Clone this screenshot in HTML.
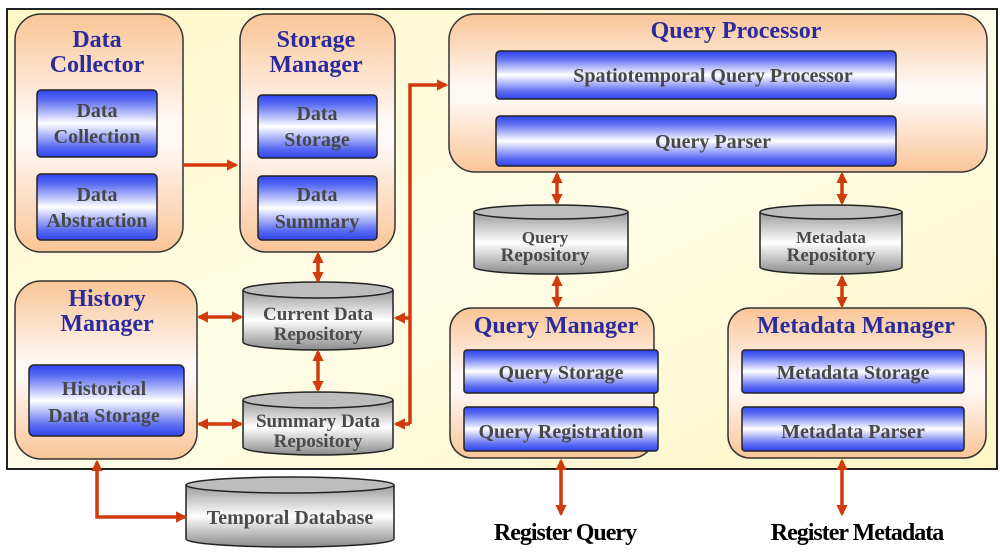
<!DOCTYPE html>
<html><head><meta charset="utf-8"><style>
html,body{margin:0;padding:0;background:#fff;}
svg{display:block;}
text{font-family:"Liberation Serif",serif;font-weight:bold;text-anchor:middle;}
.t{fill:#2b2b9c;font-size:24px;}
.i{fill:#474747;font-size:20px;}
.c{fill:#4a4a4a;font-size:19px;}
</style></head><body>
<svg width="1000" height="558" viewBox="0 0 1000 558" xmlns="http://www.w3.org/2000/svg">
<defs>
<linearGradient id="bg" x1="0" y1="0" x2="1" y2="1"><stop offset="0" stop-color="#fdf7c6"/><stop offset="0.5" stop-color="#fffde8"/><stop offset="1" stop-color="#fdf6c4"/></linearGradient>
<linearGradient id="or" x1="0" y1="0" x2="0" y2="1"><stop offset="0" stop-color="#f9c596"/><stop offset="0.45" stop-color="#fff8f4"/><stop offset="0.55" stop-color="#fff8f4"/><stop offset="1" stop-color="#f9c596"/></linearGradient>
<linearGradient id="bl" x1="0" y1="0" x2="0" y2="1"><stop offset="0" stop-color="#2f44f0"/><stop offset="0.15" stop-color="#5a6cf2"/><stop offset="0.5" stop-color="#ffffff"/><stop offset="0.85" stop-color="#5a6cf2"/><stop offset="1" stop-color="#2f44f0"/></linearGradient>
<linearGradient id="gr" x1="0" y1="0" x2="0" y2="1"><stop offset="0" stop-color="#9a9a9a"/><stop offset="0.5" stop-color="#ffffff"/><stop offset="1" stop-color="#8a8a8a"/></linearGradient>
<marker id="ah" viewBox="0 0 10 10" refX="8" refY="5" markerWidth="3.2" markerHeight="3.2" orient="auto-start-reverse"><path d="M0,0 L10,5 L0,10 z" fill="#d03a0c"/></marker>
</defs>
<rect x="7" y="9" width="990" height="460" fill="url(#bg)" stroke="#222" stroke-width="2"/>

<!-- Data Collector -->
<rect x="15" y="14" width="168" height="238" rx="26" fill="url(#or)" stroke="#333" stroke-width="1.5"/>
<text class="t" x="97" y="47">Data</text><text class="t" x="97" y="72">Collector</text>
<rect x="37" y="90" width="120" height="67" rx="4" fill="url(#bl)" stroke="#222" stroke-width="1.5"/>
<text class="i" x="97" y="117">Data</text><text class="i" x="97" y="143">Collection</text>
<rect x="37" y="174" width="120" height="66" rx="4" fill="url(#bl)" stroke="#222" stroke-width="1.5"/>
<text class="i" x="97" y="201">Data</text><text class="i" x="97" y="227">Abstraction</text>

<!-- Storage Manager -->
<rect x="240" y="14" width="155" height="238" rx="26" fill="url(#or)" stroke="#333" stroke-width="1.5"/>
<text class="t" x="316" y="47">Storage</text><text class="t" x="316" y="72">Manager</text>
<rect x="258" y="95" width="119" height="63" rx="4" fill="url(#bl)" stroke="#222" stroke-width="1.5"/>
<text class="i" x="317" y="120">Data</text><text class="i" x="317" y="146">Storage</text>
<rect x="258" y="176" width="119" height="64" rx="4" fill="url(#bl)" stroke="#222" stroke-width="1.5"/>
<text class="i" x="317" y="201">Data</text><text class="i" x="317" y="228">Summary</text>

<!-- Query Processor -->
<rect x="449" y="14" width="538" height="158" rx="26" fill="url(#or)" stroke="#333" stroke-width="1.5"/>
<text class="t" x="736" y="38">Query Processor</text>
<rect x="496" y="51" width="400" height="48" rx="4" fill="url(#bl)" stroke="#222" stroke-width="1.5"/>
<text class="i" x="713" y="82">Spatiotemporal Query Processor</text>
<rect x="496" y="116" width="400" height="50" rx="4" fill="url(#bl)" stroke="#222" stroke-width="1.5"/>
<text class="i" x="713" y="148">Query Parser</text>

<!-- History Manager -->
<rect x="15" y="281" width="182" height="178" rx="26" fill="url(#or)" stroke="#333" stroke-width="1.5"/>
<text class="t" x="107" y="306">History</text><text class="t" x="107" y="331">Manager</text>
<rect x="29" y="365" width="155" height="71" rx="5" fill="url(#bl)" stroke="#222" stroke-width="1.5"/>
<text class="i" x="104" y="395">Historical</text><text class="i" x="104" y="422">Data Storage</text>

<!-- Query Manager -->
<rect x="450" y="308" width="204" height="150" rx="22" fill="url(#or)" stroke="#333" stroke-width="1.5"/>
<text class="t" x="556" y="333">Query Manager</text>
<rect x="464" y="350" width="194" height="43" rx="3" fill="url(#bl)" stroke="#222" stroke-width="1.5"/>
<text class="i" x="561" y="379">Query Storage</text>
<rect x="464" y="407" width="194" height="44" rx="3" fill="url(#bl)" stroke="#222" stroke-width="1.5"/>
<text class="i" x="561" y="438">Query Registration</text>

<!-- Metadata Manager -->
<rect x="728" y="308" width="258" height="150" rx="22" fill="url(#or)" stroke="#333" stroke-width="1.5"/>
<text class="t" x="856" y="333">Metadata Manager</text>
<rect x="742" y="350" width="222" height="43" rx="3" fill="url(#bl)" stroke="#222" stroke-width="1.5"/>
<text class="i" x="853" y="379">Metadata Storage</text>
<rect x="742" y="407" width="222" height="44" rx="3" fill="url(#bl)" stroke="#222" stroke-width="1.5"/>
<text class="i" x="853" y="438">Metadata Parser</text>

<!-- Cylinders -->
<g stroke="#222" stroke-width="1.5">
<path d="M243,290 v52 a75,8 0 0 0 150,0 v-52" fill="url(#gr)"/><ellipse cx="318" cy="290" rx="75" ry="8" fill="#bdbdbd"/>
<path d="M243,400 v47 a75,8 0 0 0 150,0 v-47" fill="url(#gr)"/><ellipse cx="318" cy="400" rx="75" ry="8" fill="#bdbdbd"/>
<path d="M186,485 v54 a104,8 0 0 0 208,0 v-54" fill="url(#gr)"/><ellipse cx="290" cy="485" rx="104" ry="8" fill="#bdbdbd"/>
<path d="M474,212 v55 a77,7 0 0 0 154,0 v-55" fill="url(#gr)"/><ellipse cx="551" cy="212" rx="77" ry="7" fill="#bdbdbd"/>
<path d="M760,212 v55 a71,7 0 0 0 142,0 v-55" fill="url(#gr)"/><ellipse cx="831" cy="212" rx="71" ry="7" fill="#bdbdbd"/>
</g>
<text class="c" x="318" y="320">Current Data</text><text class="c" x="318" y="340">Repository</text>
<text class="c" x="318" y="427">Summary Data</text><text class="c" x="318" y="447">Repository</text>
<text class="c" x="290" y="524" style="font-size:20px">Temporal Database</text>
<text class="c" x="545" y="243" style="font-size:17px">Query</text><text class="c" x="545" y="261" style="font-size:19px">Repository</text>
<text class="c" x="831" y="243" style="font-size:17px">Metadata</text><text class="c" x="831" y="261" style="font-size:19px">Repository</text>

<!-- Arrows -->
<g stroke="#d03a0c" stroke-width="3.5" fill="none">
<line x1="184" y1="165" x2="236" y2="165" marker-end="url(#ah)"/>
<line x1="318" y1="254" x2="318" y2="281" marker-start="url(#ah)" marker-end="url(#ah)"/>
<line x1="318" y1="352" x2="318" y2="390" marker-start="url(#ah)" marker-end="url(#ah)"/>
<line x1="199" y1="317" x2="241" y2="317" marker-start="url(#ah)" marker-end="url(#ah)"/>
<line x1="199" y1="424" x2="241" y2="424" marker-start="url(#ah)" marker-end="url(#ah)"/>
<polyline points="410,424 410,85 446,85" marker-end="url(#ah)"/>
<line x1="410" y1="318" x2="396" y2="318" marker-end="url(#ah)"/>
<line x1="410" y1="424" x2="396" y2="424" marker-end="url(#ah)"/>
<polyline points="185,517 97,517 97,462" marker-start="url(#ah)" marker-end="url(#ah)"/>
<line x1="557" y1="174" x2="557" y2="203" marker-start="url(#ah)" marker-end="url(#ah)"/>
<line x1="557" y1="277" x2="557" y2="306" marker-start="url(#ah)" marker-end="url(#ah)"/>
<line x1="842" y1="174" x2="842" y2="203" marker-start="url(#ah)" marker-end="url(#ah)"/>
<line x1="842" y1="277" x2="842" y2="306" marker-start="url(#ah)" marker-end="url(#ah)"/>
<line x1="561" y1="461" x2="561" y2="514" marker-start="url(#ah)" marker-end="url(#ah)"/>
<line x1="842" y1="461" x2="842" y2="514" marker-start="url(#ah)" marker-end="url(#ah)"/>
</g>
<text x="565" y="540" style="font-size:24px;fill:#000;letter-spacing:-1px">Register Query</text>
<text x="857" y="540" style="font-size:24px;fill:#000;letter-spacing:-1px">Register Metadata</text>
</svg>
</body></html>
